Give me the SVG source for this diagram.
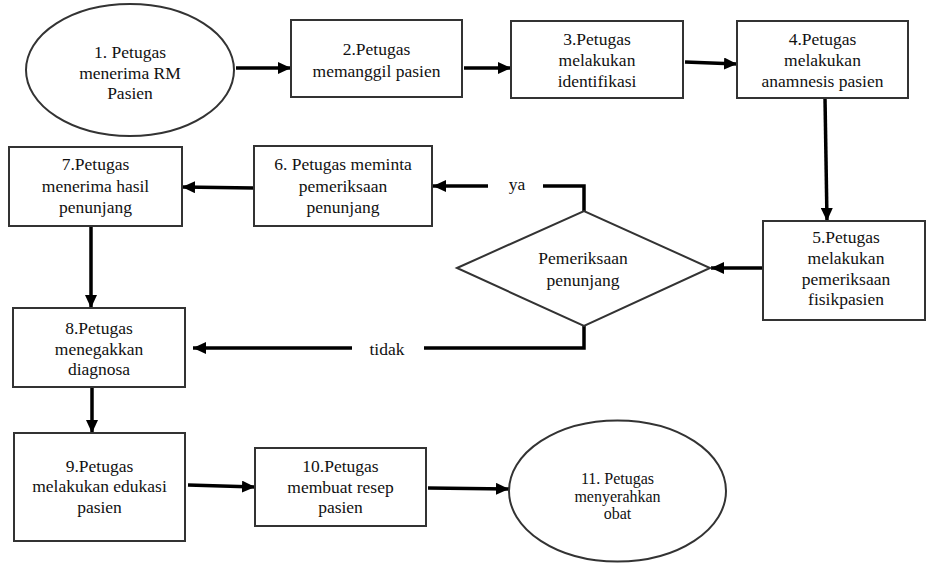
<svg xmlns="http://www.w3.org/2000/svg" width="927" height="564" viewBox="0 0 927 564">
<defs>
<style>
.n{fill:#fff;stroke:#333;stroke-width:2}
.t{fill:#111;text-anchor:middle}
.c{fill:none;stroke:#000;stroke-width:3.5}
.a{marker-end:url(#ah)}
</style>
<marker id="ah" markerUnits="userSpaceOnUse" markerWidth="14" markerHeight="12" refX="13" refY="6" orient="auto">
<path d="M0,0 L13,6 L0,12 Z" fill="#000"/>
</marker>
</defs>
<rect width="927" height="564" fill="#fff"/>
<g id="connectors">
<line class="c a" x1="236" y1="68" x2="291" y2="68"/>
<line class="c a" x1="464" y1="68" x2="511" y2="68"/>
<line class="c a" x1="685" y1="62" x2="737" y2="64"/>
<line class="c a" x1="825" y1="98" x2="827" y2="221"/>
<line class="c a" x1="763" y1="268" x2="711" y2="268"/>
<polyline class="c" points="584,211 584,186 543,186"/>
<line class="c a" x1="488" y1="186" x2="433" y2="186"/>
<line class="c a" x1="254" y1="188" x2="182" y2="187"/>
<line class="c a" x1="91" y1="226" x2="91" y2="308"/>
<polyline class="c" points="584,326 584,348 424,348"/>
<line class="c a" x1="352" y1="348" x2="193" y2="348"/>
<line class="c a" x1="92" y1="387" x2="92" y2="433"/>
<line class="c a" x1="188" y1="485" x2="255" y2="487"/>
<line class="c a" x1="428" y1="488" x2="509" y2="489"/>
<text class="t" font-family="Liberation Serif" font-size="17.5" x="517" y="190">ya</text>
<text class="t" font-family="Liberation Serif" font-size="17.5" x="387" y="355">tidak</text>
</g>
<g id="n1">
<ellipse class="n" cx="130" cy="70" rx="104" ry="66"/>
<text class="t" font-family="Liberation Serif" font-size="17.5" x="130" y="58">1. Petugas</text>
<text class="t" font-family="Liberation Serif" font-size="17.5" x="130" y="78.5">menerima RM</text>
<text class="t" font-family="Liberation Serif" font-size="17.5" x="130" y="99">Pasien</text>
</g>
<g id="n2">
<rect class="n" x="291" y="20" width="171" height="77"/>
<text class="t" font-family="Liberation Serif" font-size="17.5" x="376.5" y="55">2.Petugas</text>
<text class="t" font-family="Liberation Serif" font-size="17.5" x="376.5" y="77">memanggil pasien</text>
</g>
<g id="n3">
<rect class="n" x="511" y="21" width="172" height="77"/>
<text class="t" font-family="Liberation Serif" font-size="17.5" x="597" y="45">3.Petugas</text>
<text class="t" font-family="Liberation Serif" font-size="17.5" x="597" y="66">melakukan</text>
<text class="t" font-family="Liberation Serif" font-size="17.5" x="597" y="87">identifikasi</text>
</g>
<g id="n4">
<rect class="n" x="737" y="21" width="171" height="77"/>
<text class="t" font-family="Liberation Serif" font-size="17.5" x="822.5" y="45">4.Petugas</text>
<text class="t" font-family="Liberation Serif" font-size="17.5" x="822.5" y="66">melakukan</text>
<text class="t" font-family="Liberation Serif" font-size="17.5" x="822.5" y="87">anamnesis pasien</text>
</g>
<g id="n5">
<rect class="n" x="763" y="221" width="162" height="99"/>
<text class="t" font-family="Liberation Serif" font-size="17.5" x="846" y="243">5.Petugas</text>
<text class="t" font-family="Liberation Serif" font-size="17.5" x="846" y="264">melakukan</text>
<text class="t" font-family="Liberation Serif" font-size="17.5" x="846" y="285">pemeriksaan</text>
<text class="t" font-family="Liberation Serif" font-size="17.5" x="846" y="305">fisikpasien</text>
</g>
<g id="decision">
<polygon class="n" points="457,268 584,211 710,268 584,326"/>
<text class="t" font-family="Liberation Serif" font-size="17.5" x="583" y="264">Pemeriksaan</text>
<text class="t" font-family="Liberation Serif" font-size="17.5" x="583" y="286">penunjang</text>
</g>
<g id="n6">
<rect class="n" x="254" y="146" width="178" height="80"/>
<text class="t" font-family="Liberation Serif" font-size="17.5" x="343" y="170">6. Petugas meminta</text>
<text class="t" font-family="Liberation Serif" font-size="17.5" x="343" y="192">pemeriksaan</text>
<text class="t" font-family="Liberation Serif" font-size="17.5" x="343" y="213">penunjang</text>
</g>
<g id="n7">
<rect class="n" x="9" y="147" width="173" height="79"/>
<text class="t" font-family="Liberation Serif" font-size="17.5" x="95.5" y="170">7.Petugas</text>
<text class="t" font-family="Liberation Serif" font-size="17.5" x="95.5" y="192">menerima hasil</text>
<text class="t" font-family="Liberation Serif" font-size="17.5" x="95.5" y="213">penunjang</text>
</g>
<g id="n8">
<rect class="n" x="13" y="308" width="172" height="79"/>
<text class="t" font-family="Liberation Serif" font-size="17.5" x="99" y="334">8.Petugas</text>
<text class="t" font-family="Liberation Serif" font-size="17.5" x="99" y="355">menegakkan</text>
<text class="t" font-family="Liberation Serif" font-size="17.5" x="99" y="375">diagnosa</text>
</g>
<g id="n9">
<rect class="n" x="14" y="433" width="171" height="108"/>
<text class="t" font-family="Liberation Serif" font-size="17.5" x="99.5" y="472">9.Petugas</text>
<text class="t" font-family="Liberation Serif" font-size="17.5" x="99.5" y="492">melakukan edukasi</text>
<text class="t" font-family="Liberation Serif" font-size="17.5" x="99.5" y="513">pasien</text>
</g>
<g id="n10">
<rect class="n" x="255" y="448" width="171" height="78"/>
<text class="t" font-family="Liberation Serif" font-size="17.5" x="340.5" y="472">10.Petugas</text>
<text class="t" font-family="Liberation Serif" font-size="17.5" x="340.5" y="493">membuat resep</text>
<text class="t" font-family="Liberation Serif" font-size="17.5" x="340.5" y="513">pasien</text>
</g>
<g id="n11">
<ellipse class="n" cx="617.5" cy="491" rx="108.5" ry="70.5"/>
<text class="t" font-family="Liberation Serif" font-size="16" x="617.5" y="484">11. Petugas</text>
<text class="t" font-family="Liberation Serif" font-size="16" x="617.5" y="502">menyerahkan</text>
<text class="t" font-family="Liberation Serif" font-size="16" x="617.5" y="519">obat</text>
</g>
</svg>
